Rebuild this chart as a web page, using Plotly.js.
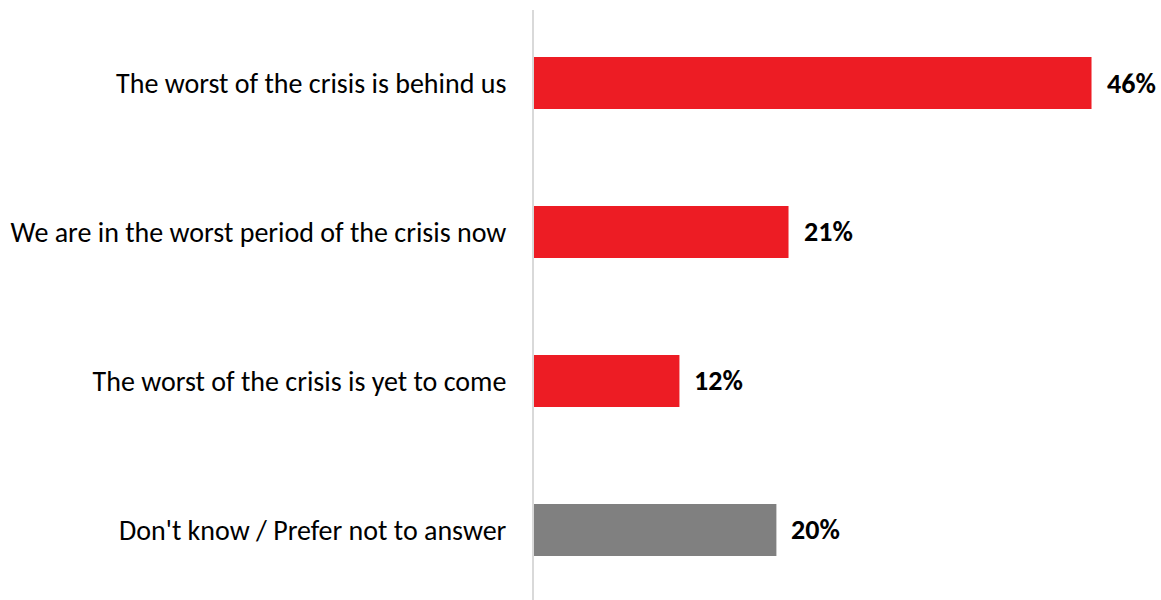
<!DOCTYPE html>
<html>
<head>
<meta charset="utf-8">
<script src="https://cdn.plot.ly/plotly-3.0.1.min.js"></script>
<style>html,body{margin:0;padding:0;background:#fff}#chart{width:1161px;height:600px}</style>
</head>
<body>
<div id="chart"></div>
<script>
const categories = [
  "The worst of the crisis is behind us",
  "We are in the worst period of the crisis now",
  "The worst of the crisis is yet to come",
  "Don't know / Prefer not to answer"
];
const values = [46, 21, 12, 20];
const labels = ["46%", "21%", "12%", "20%"];
const colors = ["#ED1C24", "#ED1C24", "#ED1C24", "#808080"];

const fontFam = "Carlito, Calibri, Lato, 'Open Sans', sans-serif";

const trace = {
  type: "bar",
  orientation: "h",
  x: values,
  y: categories,
  marker: {color: colors},
  width: 0.35,
  hoverinfo: "skip"
};

const annotations = values.map((v, i) => ({
  x: v, y: categories[i], xref: "x", yref: "y",
  text: "<b>" + labels[i] + "</b>",
  showarrow: false, xanchor: "left", yanchor: "middle",
  xshift: 13,
  font: {family: fontFam, size: 28, color: "#000"}
}));

const layout = {
  width: 1161, height: 600,
  margin: {l: 534, r: 21, t: 10, b: 0},
  paper_bgcolor: "#fff", plot_bgcolor: "#fff",
  showlegend: false,
  xaxis: {range: [0, 50], visible: false, showgrid: false, zeroline: false},
  yaxis: {
    type: "category",
    range: [3.47, -0.49],
    showline: true, linecolor: "#d9d9d9", linewidth: 2,
    showgrid: false, zeroline: false, ticks: "",
    ticklabelstandoff: 20,
    tickfont: {family: fontFam, size: 28, color: "#000"}
  },
  annotations: annotations
};

Plotly.newPlot("chart", [trace], layout, {displayModeBar: false, staticPlot: true});
</script>
</body>
</html>
